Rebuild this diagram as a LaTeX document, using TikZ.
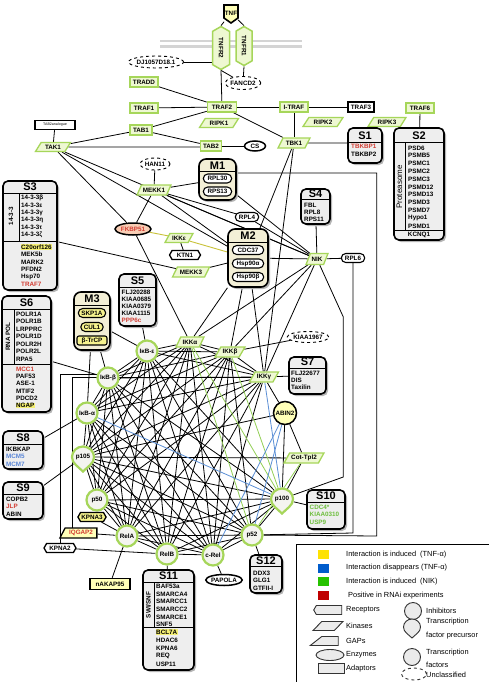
\documentclass[tikz,border=0pt]{standalone}
\usepackage{fontspec}
\setmainfont{Liberation Sans}
\usetikzlibrary{shapes.geometric,shapes.symbols,shapes.callouts,shapes.misc}
\definecolor{gB}{HTML}{A6D65A}
\definecolor{gF}{HTML}{EEF8D2}
\definecolor{yF}{HTML}{FFFFB8}
\definecolor{yP}{HTML}{F6F38E}
\definecolor{bF}{HTML}{F3EFD6}
\definecolor{sF}{HTML}{EEEEEE}
\definecolor{tF}{HTML}{F4F4F0}
\definecolor{rT}{HTML}{D23C32}
\definecolor{bT}{HTML}{5A86D6}
\definecolor{gT}{HTML}{6DBE3C}
\definecolor{lB}{HTML}{5B8FD6}
\definecolor{lG}{HTML}{92CF55}
\definecolor{lY}{HTML}{C9C23A}
\definecolor{yH}{HTML}{F4EF73}
\definecolor{memb}{HTML}{D4D4D4}
\definecolor{salm}{HTML}{F8CDB4}
\definecolor{shd}{HTML}{B5B5B5}
\pgfdeclarelayer{bgzero}
\pgfdeclarelayer{edges}
\pgfsetlayers{bgzero,edges,main}
\tikzset{
  lbl/.style={font=\fontsize{6.3}{7}\selectfont\bfseries, inner sep=0.8pt},
  adapt/.style={lbl, rectangle, draw=gB, fill=gF, line width=1.5pt, minimum height=10pt},
  adaptk/.style={lbl, rectangle, draw=black, fill=white, line width=1.5pt, minimum height=10pt},
  kin/.style={lbl, trapezium, trapezium left angle=55, trapezium right angle=125, trapezium stretches=true, draw=gB, fill=gF, line width=1.3pt, minimum height=9pt},
  unc/.style={lbl, ellipse, draw=black, dashed, line width=0.9pt, fill=white, inner sep=0pt},
  enz/.style={lbl, ellipse, draw=black, line width=1.5pt, fill=white, inner sep=0pt},
  hexa/.style={lbl, signal, signal to=east and west, signal pointer angle=120, draw=black, line width=1.3pt, fill=white, minimum height=9pt},
  rec/.style={lbl, signal, signal to=east and west, signal pointer angle=120, draw=gB, fill=gF, line width=1.5pt, rotate=-90},
  gap/.style={lbl, trapezium, trapezium left angle=60, trapezium right angle=90, trapezium stretches=true, draw=black, line width=1.3pt, minimum height=10pt},
  pill/.style={lbl, rounded rectangle, draw=black, line width=1.1pt, fill=white, minimum height=9pt},
  tf/.style={lbl, circle, draw=gB, line width=2.2pt, fill=tF, minimum size=21pt, inner sep=0pt},
  drop/.style={lbl, ellipse callout, callout relative pointer={(0,-4pt)}, callout pointer arc=80, draw=gB, line width=2.2pt, fill=tF, minimum width=22pt, minimum height=21pt, inner sep=0pt},
  inh/.style={lbl, circle, draw=black, line width=1.5pt, fill=yF, minimum size=23pt, inner sep=0pt},
  sframe/.style={rectangle, rounded corners=5pt, draw=black, line width=1.6pt, fill=sF},
  mframe/.style={rectangle, rounded corners=7pt, draw=black, line width=1.6pt, fill=bF},
  item/.style={font=\fontsize{6.3}{7}\selectfont\bfseries, inner sep=0pt, anchor=west},
  vlab/.style={font=\fontsize{6.3}{7}\selectfont\bfseries, inner sep=0pt, rotate=90},
  head/.style={font=\fontsize{11}{12}\selectfont\bfseries, inner sep=0pt},
  edge/.style={line width=0.8pt, black},
  gedge/.style={line width=0.8pt, lG},
  bedge/.style={line width=0.8pt, lB},
  yedge/.style={line width=0.9pt, lY},
  leg/.style={font=\fontsize{7.4}{8}\selectfont, inner sep=0pt, anchor=west},
  legic/.style={draw=black!80, fill=black!8, line width=0.9pt, inner sep=1pt},
}
\newcommand\Sframe[6]{%
  \fill[shd, rounded corners=5pt] ({#2+2},{#3+2}) rectangle ({#4+2},{#5+2});
  \node[sframe, minimum width={(#4-#2)*1pt}, minimum height={(#5-#3)*1pt}] (#1) at ({(#2+#4)/2},{(#3+#5)/2}) {};
  \draw[line width=0.8pt] (#2,#6) -- (#4,#6);}
\newcommand\Mframe[6]{%
  \fill[shd, rounded corners=7pt] ({#2+2},{#3+2}) rectangle ({#4+2},{#5+2});
  \node[mframe, minimum width={(#4-#2)*1pt}, minimum height={(#5-#3)*1pt}] (#1) at ({(#2+#4)/2},{(#3+#5)/2}) {};
  \draw[line width=0.7pt] (#2,#6) -- (#4,#6);}
\newcommand\Items[5]{%
  \foreach [count=\k] \t/\c in {#5} {\node[item, text=\c] (#1\k) at (#2,{#3+(\k-1)*#4}) {\t};}}
\begin{document}
\begin{tikzpicture}[x=1pt,y=-1pt]
\begin{pgfonlayer}{bgzero}
\fill[white] (0,0) rectangle (489,682);
\draw[memb, line width=2.2pt] (160,41) -- (302,41);
\draw[memb, line width=2.2pt] (160,46.5) -- (302,46.5);
\end{pgfonlayer}
\useasboundingbox (0,0) rectangle (489,682);

% ---------- top nodes ----------
\filldraw[draw=black, fill=yF, line width=1.6pt] (224,5) -- (238,5) -- (238,18) -- (231,23) -- (224,18) -- cycle;
\node[lbl, minimum width=14pt, minimum height=17pt] (TNF) at (231,13) {TNF};
\node[rec, minimum width=43pt, minimum height=17pt] (TNFR2) at (221,48) {TNFR2};
\node[rec, minimum width=39pt, minimum height=16pt] (TNFR1) at (244,46) {TNFR1};
\node[unc, minimum width=52pt, minimum height=12pt] (DJ) at (156,62) {DJ1057D18.1};
\node[unc, minimum width=33pt, minimum height=13pt] (FANCD2) at (243,83) {FANCD2};
\node[adapt, minimum width=28pt] (TRADD) at (144,82) {TRADD};
\node[adapt, minimum width=28pt] (TRAF1) at (144,108) {TRAF1};
\node[adapt, minimum width=22pt] (TAB1) at (141,130) {TAB1};
\node[adaptk, font=\fontsize{3.6}{4}\selectfont, minimum width=40pt, minimum height=9pt] (TAB2an) at (55,125) {TAB2analogue};
\node[kin, minimum width=35pt] (TAK1) at (53,147) {TAK1};
\node[adapt, minimum width=29pt] (TRAF2) at (222,107) {TRAF2};
\node[kin, minimum width=39pt] (RIPK1) at (219,123) {RIPK1};
\node[adapt, minimum width=21pt] (TAB2) at (211,146) {TAB2};
\node[enz, minimum width=21pt, minimum height=10pt] (CS) at (255,146) {CS};
\node[adapt, minimum width=28pt] (ITRAF) at (294,107) {I-TRAF};
\node[kin, minimum width=32pt, minimum height=10pt] (TBK1) at (294,143) {TBK1};
\node[kin, minimum width=40pt] (RIPK2) at (323,122) {RIPK2};
\node[adaptk, minimum width=26pt] (TRAF3) at (361,107) {TRAF3};
\node[adapt, minimum width=28pt] (TRAF6) at (420,108) {TRAF6};
\node[kin, minimum width=38pt] (RIPK3) at (387,122) {RIPK3};

% S1
\Sframe{S1}{348}{128}{382}{163}{142.5}
\node[head] (S1h) at (365,135.5) {S1};
\Items{S1i}{351}{146.5}{7.3}{TBKBP1/rT,TBKBP2/black}
% S2
\Sframe{S2}{394}{128}{444}{240}{142.5}
\node[head] (S2h) at (419,135.5) {S2};
\draw[line width=0.7pt] (405,142.5) -- (405,230);
\draw[line width=0.8pt] (394,230) -- (444,230);
\node[font=\fontsize{8}{9}\selectfont, inner sep=0pt, rotate=90] (S2v) at (399.5,187) {Proteasome};
\Items{S2i}{408}{148}{7.8}{PSD6/black,PSMB5/black,PSMC1/black,PSMC2/black,PSMC3/black,PSMD12/black,PSMD13/black,PSMD3/black,PSMD7/black,Hypo1/black,PSMD1/black}
\node[item, anchor=center] (S2k) at (419,235) {KCNQ1};

% ---------- middle-upper ----------
\node[unc, minimum width=30pt, minimum height=12pt] (HAN11) at (155,164) {HAN11};
\node[kin, minimum width=34pt, minimum height=10pt] (MEKK1) at (154,190) {MEKK1};
\Mframe{M1}{199}{159}{236}{200}{171}
\node[head] (M1h) at (217.5,165.5) {M1};
\node[pill, minimum width=30pt] (RPL30) at (217.5,178.5) {RPL30};
\node[pill, minimum width=30pt] (RPS13) at (217.5,191.5) {RPS13};

\Sframe{S3}{3}{181}{57}{290}{193}
\node[head] (S3h) at (30,187) {S3};
\draw[line width=0.7pt] (19,193) -- (19,241);
\draw[line width=0.8pt] (3,241) -- (57,241);
\node[vlab] (S3v) at (11,216) {14-3-3};
\Items{S3i}{21}{197.5}{7.5}{14-3-3β/black,14-3-3ε/black,14-3-3γ/black,14-3-3η/black,14-3-3τ/black,14-3-3ζ/black}
\node[item, fill=yH, inner sep=0.5pt] (S3c) at (20.5,247) {C20orf126};
\Items{S3j}{21}{254.5}{7.5}{MEK5b/black,MARK2/black,PFDN2/black,Hsp70/black,TRAF7/rT}

\node[enz, fill=salm, text=rT, minimum width=36pt, minimum height=12pt] (FKBP51) at (133,229) {FKBP51};
\node[pill, minimum width=25pt] (RPL4) at (247,217) {RPL4};
\Mframe{M2}{228}{229}{268}{287}{242}
\node[head] (M2h) at (248,235.5) {M2};
\node[pill, minimum width=33pt] (CDC37) at (248,250) {CDC37};
\node[pill, minimum width=33pt] (HSPa) at (248,263.5) {Hsp90α};
\node[pill, minimum width=33pt] (HSPb) at (248,277) {Hsp90β};
\Sframe{S4}{301}{189}{330}{224}{199.5}
\node[head] (S4h) at (315.5,194) {S4};
\Items{S4i}{304}{205}{7}{FBL/black,RPL8/black,RPS11/black}
\node[kin, minimum width=28pt] (IKKe) at (179,238) {IKKε};
\node[hexa, minimum width=31pt] (KTN1) at (185,255) {KTN1};
\node[kin, minimum width=37pt, minimum height=10pt] (MEKK3) at (191,272) {MEKK3};
\node[kin, minimum width=22pt, minimum height=11pt] (NIK) at (317,259) {NIK};
\node[pill, minimum width=25pt] (RPL6) at (353,258) {RPL6};

\Sframe{S5}{119}{274}{156}{326}{287}
\node[head] (S5h) at (137.5,280.5) {S5};
\Items{S5i}{121.5}{292}{7}{FLJ20288/black,KIAA0685/black,KIAA0379/black,KIAA1115/black,PPP6c/rT}
\Mframe{M3}{74}{292}{110}{350}{305}
\node[head] (M3h) at (92,298.5) {M3};
\node[pill, fill=yP, minimum width=29pt] (SKP1A) at (92,313) {SKP1A};
\node[pill, fill=yP, minimum width=24pt] (CUL1) at (92,327) {CUL1};
\node[lbl, rectangle, rounded corners=2pt, draw=black, line width=1.1pt, fill=yP, minimum width=30pt, minimum height=9pt] (BTRCP) at (92,340.5) {β-TrCP};

\Sframe{S6}{2}{296}{51}{412}{309}
\node[head] (S6h) at (26.5,302.5) {S6};
\draw[line width=0.7pt] (14,309) -- (14,364.5);
\draw[line width=0.8pt] (2,364.5) -- (51,364.5);
\node[vlab] (S6v) at (8,336.5) {RNA POL};
\Items{S6i}{16}{314}{7.5}{POLR1A/black,POLR1B/black,LRPPRC/black,POLR1D/black,POLR2H/black,POLR2L/black,RPA5/black}
\Items{S6j}{16}{369}{7.3}{MCC1/rT,PAF53/black,ASE-1/black,MTIF2/black,PDCD2/black}
\node[item, fill=yH, inner sep=0.5pt] (S6n) at (15.5,405.5) {NGAP};

% ---------- NF-kB core ----------
\node[unc, minimum width=36pt, minimum height=11pt] (KIAA1967) at (308,337) {KIAA1967};
\node[kin, minimum width=28pt, minimum height=10pt] (IKKa) at (190,342) {IKKα};
\node[kin, minimum width=30pt, minimum height=10pt] (IKKb) at (230,352) {IKKβ};
\node[kin, minimum width=29pt, minimum height=10pt] (IKKg) at (264,377) {IKKγ};
\Sframe{S7}{289}{357}{326}{394}{368}
\node[head] (S7h) at (307.5,362) {S7};
\Items{S7i}{291}{373}{7.3}{FLJ22677/black,DIS/black,Taxilin/black}
\node[tf] (IkBe) at (147,351) {IκB-ε};
\node[tf] (IkBb) at (108,378) {IκB-β};
\node[tf] (IkBa) at (87,413) {IκB-α};
\node[inh] (ABIN2) at (285,413) {ABIN2};
\Sframe{S8}{3}{431}{43}{469}{444}
\node[head] (S8h) at (23,437.5) {S8};
\Items{S8i}{6}{449}{7.5}{IKBKAP/black,MCM5/bT,MCM7/bT}
\node[drop] (p105) at (83,457) {p105};
\node[kin, minimum width=40pt, minimum height=10pt] (CotTpl2) at (304,458) {Cot-Tpl2};
\Sframe{S9}{3}{482}{43}{519}{494}
\node[head] (S9h) at (23,488) {S9};
\Items{S9i}{6}{499.5}{7.3}{COPB2/black,JLP/rT,ABIN/black}
\node[tf] (p50) at (97,500) {p50};
\node[drop] (p100) at (282,499) {p100};
\Sframe{S10}{307}{490}{345}{529}{502}
\node[head] (S10h) at (326,496) {S10};
\Items{S10i}{309.5}{507}{7.5}{CDC4*/gT,KIAA0310/gT,USP9/gT}
\node[hexa, fill=yP, minimum width=26pt] (KPNA3) at (92,517) {KPNA3};
\node[gap, fill=yF, text=rT, minimum width=37pt] (IQGAP2) at (81,533) {IQGAP2};
\node[tf] (RelA) at (127,536) {RelA};
\node[hexa, minimum width=32pt] (KPNA2) at (60,548) {KPNA2};
\node[tf] (p52) at (252,535) {p52};
\node[tf] (RelB) at (167,554) {RelB};
\node[tf] (cRel) at (213,555) {c-Rel};
\node[enz, minimum width=36pt, minimum height=11pt] (PAPOLA) at (224,580) {PAPOLA};
\node[adaptk, fill=yF, minimum width=40pt, minimum height=11pt] (nAKAP95) at (110,584) {nAKAP95};
\Sframe{S11}{143}{570}{194}{670}{582}
\node[head] (S11h) at (168.5,576) {S11};
\draw[line width=0.7pt] (154,582) -- (154,627.5);
\draw[line width=0.8pt] (143,627.5) -- (194,627.5);
\node[vlab] (S11v) at (148.5,605) {SWI/SNF};
\Items{S11i}{156}{586.5}{7.6}{BAF53a/black,SMARCA4/black,SMARCC1/black,SMARCC2/black,SMARCE1/black,SNF5/black}
\node[item, fill=yH, inner sep=0.5pt] (S11b) at (155.5,632) {BCL7A};
\Items{S11j}{156}{640}{8}{HDAC6/black,KPNA6/black,REQ/black,USP11/black}
\Sframe{S12}{250}{555}{282}{593}{566}
\node[head] (S12h) at (266,560.5) {S12};
\Items{S12i}{253}{573}{7.6}{DDX3/black,GLG1/black,GTFII-I/black}

\coordinate (m1y) at (0,173);
\coordinate (frA) at (376.7,536);
\coordinate (frB) at (353,533);
\coordinate (nk1) at (343.3,317);
\coordinate (nk2) at (343.3,477);
\coordinate (fl1) at (61,374);
\coordinate (fl2) at (72,529);

% ---------- connectors ----------
\begin{pgfonlayer}{edges}
\draw[edge] (TNF) -- (TNFR2.west);
\draw[edge] (TNF) -- (TNFR1.west);
\draw[edge] (DJ.east) -- (DJ.east -| TNFR2.south);
\draw[edge] (TNFR2.east) -- (FANCD2);
\draw[edge] (TNFR1.east) -- (FANCD2);
\draw[edge] (TNFR2.east) -- (TRAF2);
\foreach \a/\b in {TRADD/TRAF2,TRAF1/TRAF2,TAB1/TRAF2,TAB1/TAB2,TAK1/TAB1,TAB2/CS,TRAF2/ITRAF,TRAF2/TBK1,ITRAF/TRAF3,ITRAF/TBK1,TRAF6/S2,HAN11/MEKK1,MEKK1/M1,TAK1/FKBP51,TAK1/M2,TAK1/NIK,MEKK1/FKBP51,MEKK1/M2,MEKK1/NIK,MEKK1/RPL4,TBK1/M2,TBK1/IKKg,M1/NIK,RPL4/NIK,S4/NIK,NIK/RPL6,M2/NIK,IKKe/KTN1,MEKK3/M2,S3/MEKK3,FKBP51/IKKa,S5/IkBe,M3/IkBe,M3/IkBa,M3/IkBb,S6/IkBb,S8/IkBa,S9/p105,M2/IKKa,M2/IKKb,M2/IKKg,NIK/IKKa,NIK/IKKb,NIK/IKKg,KIAA1967/IKKb,IKKg/S7,IKKa/IkBe,IKKa/IkBb,IKKa/IkBa,IKKa/p105,IKKa/p50,IKKa/RelA,IKKa/RelB,IKKa/cRel,IKKb/IkBe,IKKb/IkBb,IKKb/IkBa,IKKb/p105,IKKb/p50,IKKb/RelA,IKKb/RelB,IKKb/cRel,IKKb/p52,IKKg/IkBe,IKKg/IkBb,IKKg/IkBa,IKKg/p105,IKKg/p50,IKKg/RelA,IKKg/RelB,IKKg/cRel,IKKa/IKKb,IKKb/IKKg,IKKa/IKKg,IkBe/IkBb,IkBe/IkBa,IkBe/p105,IkBe/p50,IkBe/RelA,IkBe/RelB,IkBe/cRel,IkBe/p52,IkBe/p100,IkBb/IkBa,IkBb/p105,IkBb/p50,IkBb/RelA,IkBb/RelB,IkBb/cRel,IkBb/p52,IkBb/p100,IkBa/p105,IkBa/p50,IkBa/RelA,IkBa/RelB,IkBa/cRel,IkBa/p52,p105/p50,p105/RelA,p105/RelB,p105/cRel,p105/p52,p105/p100,p50/RelA,p50/RelB,p50/cRel,p50/p52,p50/p100,RelA/RelB,RelA/cRel,RelA/p52,RelA/p100,RelB/cRel,RelB/p52,RelB/p100,cRel/p52,cRel/p100,p52/p100,ABIN2/IKKg,ABIN2/p105,ABIN2/p100,ABIN2/CotTpl2,CotTpl2/p105,CotTpl2/p100,RelA/KPNA3,RelA/IQGAP2,RelA/nAKAP95,RelB/S11,cRel/PAPOLA,p52/S12,p100/S10,KPNA2/RelB}
  {\draw[edge] (\a) -- (\b);}
\draw[edge] (TAK1) -- (TAK1 -| TAB2.west);
\draw[edge] (TAK1) -- (TAB2an);
\draw[edge] (TBK1) -- (TBK1 -| S1.west);
\draw[yedge] (FKBP51) -- (IKKe);
\draw[yedge] (IKKe) -- (M2);
\draw[gedge] (IKKa) -- (p100);
\draw[gedge] (IKKa) -- (p52);
\draw[gedge] (IKKb) -- (p100);
\draw[gedge] (CotTpl2) -- (p52);
\draw[bedge] (IKKg) -- (p100);
\draw[bedge] (IkBa) -- (p100);
\draw[bedge] (ABIN2) -- (p52);
\draw[bedge] (ABIN2) -- (cRel);
\draw[edge] (M1.east |- m1y) -| (frA) -- (p52);
\draw[edge] (RPL6) -- (frB) -- (p52);
\draw[edge] (NIK) -- (nk1) -- (nk2) -- (p100);
\draw[edge] (IKKg.west) -| (fl2);
\draw[edge] (IkBb.west |- fl1) -| (KPNA2.north);
\draw[line width=0.8pt] (296,682) -- (296,544) -- (489,544);
\end{pgfonlayer}

% ---------- legend ----------
\fill[fill=yellow!85!orange] (318,550) rectangle (329,559);
\fill[fill=blue!55!cyan!80!black] (318,563.5) rectangle (329,572.5);
\fill[fill=green!70!black!80!lime] (318,577) rectangle (329,586);
\fill[fill=red!75!black] (318,590.5) rectangle (329,599.5);
\node[leg] (L1) at (346,555) {Interaction is induced \ (TNF-α)};
\node[leg] (L2) at (346,568) {Interaction disappears (TNF-α)};
\node[leg] (L3) at (346,582) {Interaction is induced \ (NIK)};
\node[leg] (L4) at (348,595.5) {Positive in RNAi experiments};
\node[legic, signal, signal to=west, signal pointer angle=120, minimum width=28pt, minimum height=9pt] (LR) at (329,610) {};
\node[legic, trapezium, trapezium left angle=55, trapezium right angle=125, trapezium stretches=true, minimum width=30pt, minimum height=9pt] (LK) at (328,626) {};
\node[legic, trapezium, trapezium left angle=55, trapezium right angle=90, trapezium stretches=true, minimum width=28pt, minimum height=9pt] (LG) at (330,641) {};
\node[legic, ellipse, minimum width=28pt, minimum height=11pt] (LE) at (330,655) {};
\node[legic, rectangle, minimum width=26pt, minimum height=10pt] (LA) at (331,668.5) {};
\node[leg] (LRt) at (346,610) {Receptors};
\node[leg] (LKt) at (346,626) {Kinases};
\node[leg] (LGt) at (346,641) {GAPs};
\node[leg] (LEt) at (346,655) {Enzymes};
\node[leg] (LAt) at (346,668.5) {Adaptors};
\node[legic, circle, minimum size=17pt] (LI) at (413,611) {};
\node[legic, ellipse callout, callout relative pointer={(0,-3pt)}, callout pointer arc=80, minimum width=17pt, minimum height=16pt] (LP) at (412,627) {};
\node[legic, circle, minimum size=17pt] (LT) at (412,657) {};
\node[legic, ellipse, dashed, fill=white, minimum width=25pt, minimum height=12pt] (LU) at (414,674) {};
\node[leg] (LIt) at (426,611) {Inhibitors};
\node[leg] (LPt) at (426,622) {Transcription};
\node[leg] (LPt2) at (426,636) {factor precursor};
\node[leg] (LTt) at (426,653) {Transcription};
\node[leg] (LTt2) at (426,665) {factors};
\node[leg] (LUt) at (426,675) {Unclassified};
\end{tikzpicture}
\end{document}
